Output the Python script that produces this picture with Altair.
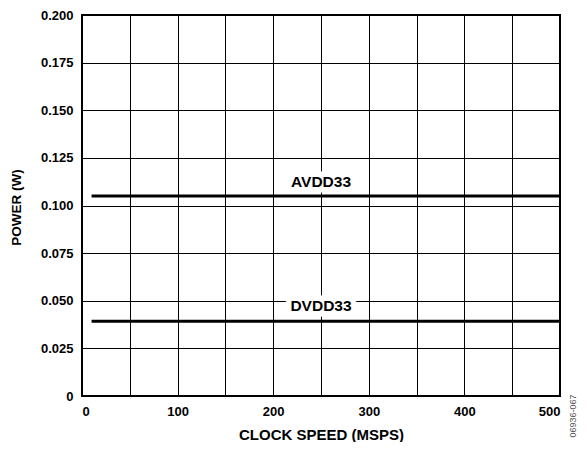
import altair as alt
import pandas as pd

# data
series = ["AVDD33", "AVDD33", "DVDD33", "DVDD33"]
clock = [10, 500, 10, 500]
power = [0.105, 0.105, 0.0393, 0.0393]

label_text = ["AVDD33", "DVDD33"]
label_x = [250, 250]
label_y = [0.1125, 0.0472]

x_ticks = list(range(0, 501, 50))
y_ticks = [0, 0.025, 0.05, 0.075, 0.1, 0.125, 0.15, 0.175, 0.2]

lines_df = pd.DataFrame({"series": series, "clock": clock, "power": power})
labels_df = pd.DataFrame({"text": label_text, "clock": label_x, "power": label_y})

FONT = "Liberation Sans"

xs = alt.Scale(domain=[0, 500], nice=False)
ys = alt.Scale(domain=[0, 0.2], nice=False)

xaxis = alt.Axis(
    title="CLOCK SPEED (MSPS)", values=x_ticks,
    labelExpr="datum.value % 100 == 0 ? datum.label : ''",
    format="d", grid=True, gridColor="black", gridWidth=1, gridOpacity=1,
    domain=False, ticks=False, labelPadding=9, labelFont=FONT, labelFontSize=13,
    labelFontWeight="bold", labelColor="black", titleFont=FONT, titleFontSize=15,
    titleFontWeight="bold", titleColor="black", titleBaseline="middle", titleY=38,
)
yaxis = alt.Axis(
    title="POWER (W)", values=y_ticks,
    labelExpr="datum.value == 0 ? '0' : format(datum.value, '.3f')",
    grid=True, gridColor="black", gridWidth=1, gridOpacity=1,
    domain=False, ticks=False, labelPadding=9, labelFont=FONT, labelFontSize=13,
    labelFontWeight="bold", labelColor="black", titleFont=FONT, titleFontSize=13.5,
    titleFontWeight="bold", titleColor="black", titleBaseline="middle",
    titleX=-66, titleY=192, titleAngle=270,
)

enc_x = alt.X("clock:Q", scale=xs, axis=xaxis)
enc_y = alt.Y("power:Q", scale=ys, axis=yaxis)

label_bg = alt.Chart(labels_df).mark_text(
    font=FONT, fontSize=15.5, fontWeight="bold", color="white",
    stroke="white", strokeWidth=11, strokeJoin="miter",
).encode(x=enc_x, y=enc_y, text="text:N")

base_lines = alt.Chart(lines_df).mark_line(color="black", strokeWidth=3).encode(
    x=alt.X("clock:Q", scale=xs),
    y=alt.Y("power:Q", scale=ys),
    detail="series:N",
)

label_fg = alt.Chart(labels_df).mark_text(
    font=FONT, fontSize=15.5, fontWeight="bold", color="black",
).encode(x=alt.X("clock:Q", scale=xs), y=alt.Y("power:Q", scale=ys), text="text:N")

code = alt.Chart(pd.DataFrame({"t": ["06936-067"]})).mark_text(
    font=FONT, fontSize=9, color="#555555", angle=270,
).encode(x=alt.value(491), y=alt.value(401), text="t:N")

chart = alt.layer(label_bg, base_lines, label_fg, code).properties(
    width=478, height=381,
    autosize=alt.AutoSizeParams(type="none"),
    padding={"left": 74, "top": 7, "right": 19, "bottom": 46},
    background="white",
).configure_view(stroke="black", strokeWidth=2)

chart.save("out.html", embed_options={"renderer": "svg", "actions": False})
